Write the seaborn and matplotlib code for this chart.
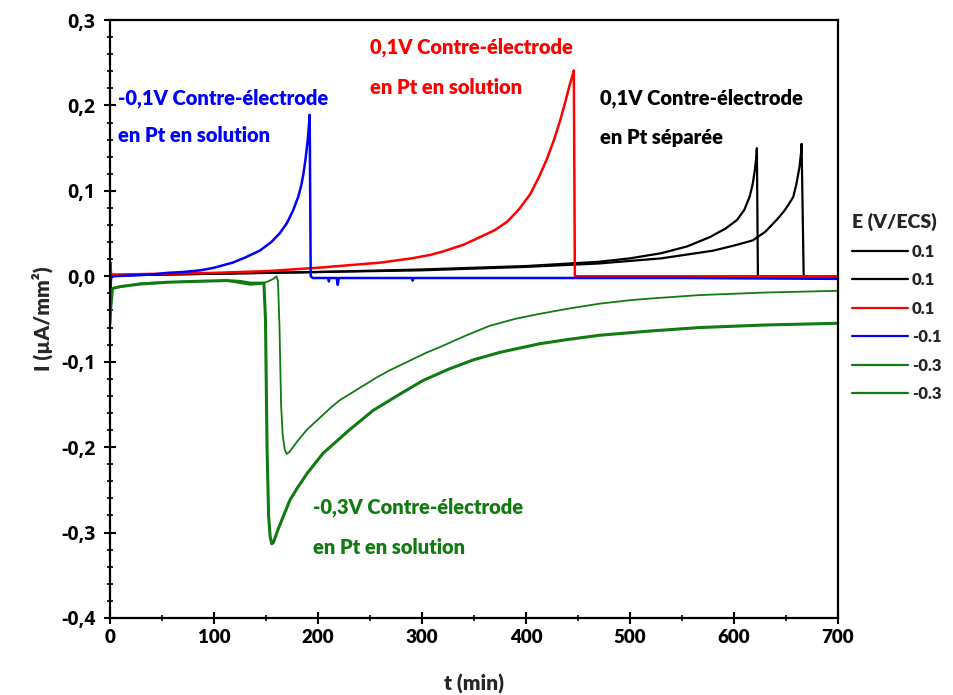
import pandas as pd
import matplotlib
matplotlib.use("Agg")
import matplotlib.pyplot as plt
import seaborn as sns
from matplotlib.ticker import MultipleLocator, FuncFormatter

# black, 0.1 V, separated counter-electrode (two runs)
t_black1 = [0, 100, 200, 300, 400, 470, 500, 530, 555, 577, 592, 603, 610, 615, 618, 620, 621.5, 622, 623, 700]
i_black1 = [0.001, 0.003, 0.005, 0.008, 0.012, 0.017, 0.021, 0.027, 0.035, 0.046, 0.056, 0.066, 0.078,
            0.093, 0.108, 0.124, 0.140, 0.150, 0.0, 0.0]
t_black2 = [0, 100, 200, 300, 400, 470, 530, 580, 600, 618, 630, 641, 648, 653, 657, 660, 663, 664.5, 665, 667, 700]
i_black2 = [0.001, 0.003, 0.005, 0.007, 0.011, 0.015, 0.021, 0.030, 0.036, 0.042, 0.052, 0.066, 0.076,
            0.085, 0.093, 0.108, 0.128, 0.145, 0.155, 0.0, 0.0]

# red, 0.1 V, counter-electrode in solution
t_red = [0, 0.5, 1, 2, 50, 100, 150, 200, 230, 260, 290, 308, 320, 340, 356, 370, 382, 393, 404, 412,
         420, 427, 433, 438, 442, 445, 446, 447, 460, 700]
i_red = [0.012, 0.016, 0.002, 0.002, 0.003, 0.004, 0.006, 0.010, 0.013, 0.016, 0.021, 0.025, 0.029,
         0.037, 0.046, 0.054, 0.064, 0.078, 0.096, 0.115, 0.137, 0.160, 0.183, 0.205, 0.224, 0.236,
         0.241, 0.0, 0.0, 0.0]

# blue, -0.1 V
t_blue = [0, 0.5, 1, 3, 20, 40, 55, 70, 87, 100, 118, 130, 144, 155, 163, 170, 176, 181, 184, 186, 188,
          190, 191, 192, 193, 195, 210, 210.5, 211, 218, 219, 220, 290, 291, 292, 400, 550, 700]
i_blue = [0.005, -0.015, -0.002, 0.0, 0.001, 0.002, 0.004, 0.005, 0.007, 0.010, 0.016, 0.022, 0.030,
          0.040, 0.050, 0.062, 0.077, 0.093, 0.107, 0.120, 0.137, 0.158, 0.172, 0.189, 0.0, -0.002,
          -0.002, -0.006, -0.002, -0.002, -0.010, -0.002, -0.002, -0.005, -0.002, -0.002, -0.002, -0.003]

# green, -0.3 V (thick and thin runs)
t_green1 = [0, 0.5, 3, 10, 30, 55, 80, 112, 125, 135, 143, 148, 149.5, 151, 152.5, 154, 155.5, 157, 162,
            167, 173, 180, 190, 205, 218, 230, 253, 280, 301, 325, 349, 375, 413, 440, 471, 520, 567,
            630, 700]
i_green1 = [-0.055, -0.016, -0.014, -0.012, -0.009, -0.007, -0.006, -0.005, -0.006, -0.008, -0.008,
            -0.008, -0.05, -0.20, -0.28, -0.305, -0.313, -0.312, -0.295, -0.280, -0.262, -0.248,
            -0.230, -0.207, -0.193, -0.180, -0.157, -0.137, -0.122, -0.109, -0.098, -0.089, -0.079,
            -0.074, -0.069, -0.064, -0.060, -0.057, -0.055]
t_green2 = [0, 3, 30, 80, 112, 125, 135, 145, 152, 157, 160, 161.5, 163, 164.5, 166, 168, 170, 173, 179,
            189, 197, 205, 213, 221, 233, 245, 257, 269, 281, 293, 305, 317, 341, 365, 389, 413, 440,
            471, 500, 520, 567, 630, 700]
i_green2 = [-0.055, -0.014, -0.008, -0.006, -0.005, -0.008, -0.010, -0.009, -0.006, -0.003, 0.000,
            -0.005, -0.06, -0.15, -0.185, -0.203, -0.208, -0.205, -0.195, -0.180, -0.171, -0.162,
            -0.153, -0.145, -0.136, -0.127, -0.118, -0.110, -0.103, -0.096, -0.089, -0.083, -0.070,
            -0.058, -0.050, -0.044, -0.038, -0.032, -0.028, -0.026, -0.022, -0.019, -0.017]

labels = ['0.1', '0.1', '0.1', '-0.1', '-0.3', '-0.3']

sns.set_style("ticks")
plt.rcParams['font.family'] = ['Lato', 'DejaVu Sans']
plt.rcParams['font.weight'] = 'bold'

fig = plt.figure(figsize=(9.54, 6.95), dpi=100)
ax = fig.add_axes([0.1153, 0.1108, 0.7631, 0.8604])

series = [
    (t_black1, i_black1, 'black', 1.6),
    (t_black2, i_black2, 'black', 1.6),
    (t_red, i_red, '#ff0000', 1.8),
    (t_blue, i_blue, '#0000ff', 1.8),
    (t_green2, i_green2, '#117a11', 1.3),
    (t_green1, i_green1, '#117a11', 2.2),
]
order = [0, 1, 2, 3, 5, 4]
for k, (t, i, c, lw) in enumerate(series):
    df = pd.DataFrame({'t': t, 'I': i})
    sns.lineplot(data=df, x='t', y='I', color=c, lw=lw, estimator=None, sort=False,
                 ax=ax, label=labels[order[k]])

ax.set_xlim(0, 700)
ax.set_ylim(-0.4, 0.3)
ax.xaxis.set_major_locator(MultipleLocator(100))
ax.xaxis.set_minor_locator(MultipleLocator(50))
ax.yaxis.set_major_locator(MultipleLocator(0.1))
ax.yaxis.set_minor_locator(MultipleLocator(0.02))
ax.yaxis.set_major_formatter(FuncFormatter(lambda v, p: f'{v:.1f}'.replace('.', ',').replace('-0,0', '0,0')))
ax.tick_params(which='major', direction='inout', length=9, width=1.5, colors='black')
ax.tick_params(axis='y', which='major', pad=6)
ax.tick_params(which='minor', direction='inout', length=5, width=1.2, colors='black')
for lab in ax.get_xticklabels():
    lab.set_fontsize(13.5)
    lab.set_fontweight('heavy')
for lab in ax.get_yticklabels():
    lab.set_family('Open Sans')
    lab.set_fontsize(14)
    lab.set_fontweight('bold')
for sp in ax.spines.values():
    sp.set_linewidth(1.6)
    sp.set_color('black')

ax.set_xlabel('t (min)', fontsize=15, fontweight='heavy', labelpad=20)
ax.set_ylabel('I (µA/mm²)', fontsize=15, fontweight='heavy', labelpad=6)

# annotations
txt = dict(fontsize=14.5, fontweight='heavy', va='center')
ax.text(7.7, 0.209, '-0,1V Contre-électrode', color='#0000ff', **txt)
ax.text(7.7, 0.165, 'en Pt en solution', color='#0000ff', **txt)
ax.text(250, 0.268, '0,1V Contre-électrode', color='#ff0000', **txt)
ax.text(250, 0.221, 'en Pt en solution', color='#ff0000', **txt)
ax.text(471, 0.208, '0,1V Contre-électrode', color='black', **txt)
ax.text(471, 0.162, 'en Pt séparée', color='black', **txt)
ax.text(195, -0.270, '-0,3V Contre-électrode', color='#117a11', **txt)
ax.text(195, -0.317, 'en Pt en solution', color='#117a11', **txt)

handles, labs = ax.get_legend_handles_labels()
ax.get_legend().remove()
handles = [handles[0], handles[1], handles[2], handles[3], handles[5], handles[4]]
leg = fig.legend(handles=handles, labels=labels, loc='upper left',
                 bbox_to_anchor=(0.877, 0.715), frameon=False,
                 prop={'size': 12, 'weight': 'heavy'},
                 title='E (V/ECS)', title_fontproperties={'size': 14, 'weight': 'heavy'},
                 handlelength=3.4, handletextpad=0.2, labelspacing=0.75, alignment='left')
for lh in leg.get_lines():
    lh.set_linewidth(1.6)

fig.savefig('out.png', dpi=100)
